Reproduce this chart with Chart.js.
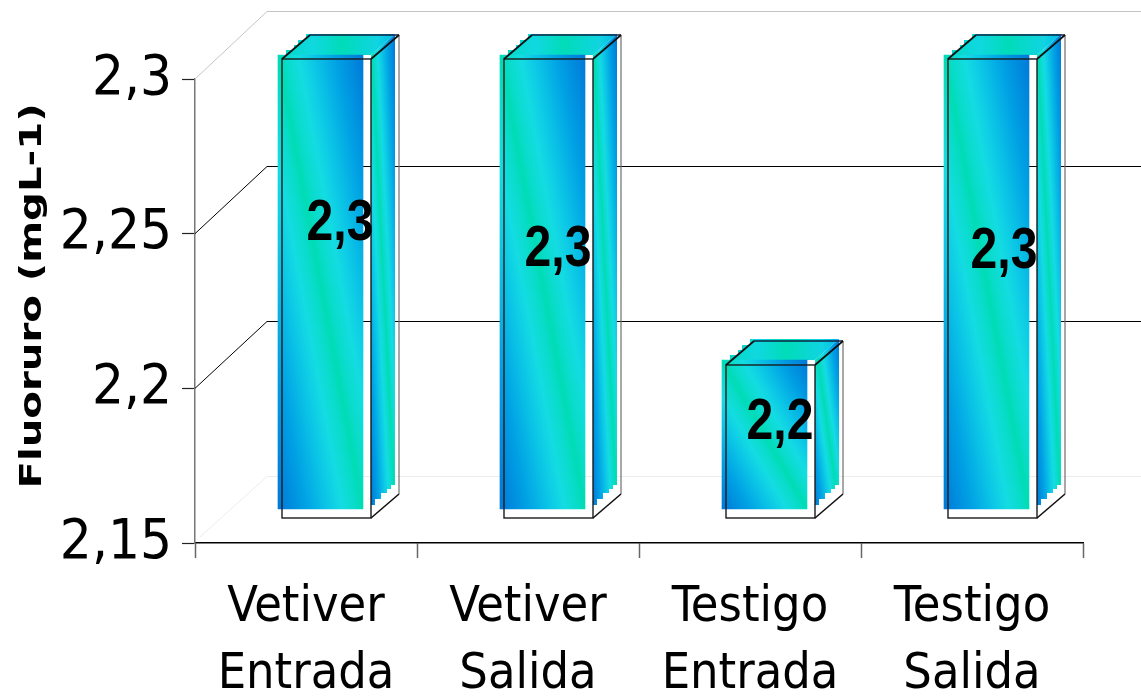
<!DOCTYPE html>
<html><head><meta charset="utf-8">
<style>html,body{margin:0;padding:0;background:#fff}canvas{display:block}</style>
<script src="https://cdn.jsdelivr.net/npm/chart.js@4"></script>
</head><body><canvas id="c" width="1141" height="697"></canvas>
<script>
const categories = [["Vetiver","Entrada"],["Vetiver","Salida"],["Testigo","Entrada"],["Testigo","Salida"]];
const fluoruro = [2.3, 2.3, 2.2, 2.3];
const valueLabels = ["2,3","2,3","2,2","2,3"];
const axisTitle = "Fluoruro (mgL-1)";
const yTicks = [2.15, 2.2, 2.25, 2.3];

const stops = [[0,'#0078d8'],[.16,'#00a0e4'],[.3,'#0cc8e6'],[.38,'#14dce2'],[.46,'#08dcc8'],[.5,'#00dcb4'],[.54,'#08dcc8'],[.62,'#14dce2'],[.7,'#0cc8e6'],[.84,'#00a0e4'],[1,'#0078d8']];
function diagGradient(ctx,x0,y0,x1,y1){
  const w=x1-x0,h=y1-y0,L=Math.hypot(w,h),d=w*h/L,nx=h/L,ny=-w/L,cx=(x0+x1)/2,cy=(y0+y1)/2;
  const g=ctx.createLinearGradient(cx+nx*d,cy+ny*d,cx-nx*d,cy-ny*d);
  stops.forEach(s=>g.addColorStop(s[0],s[1]));
  return g;
}
function topGradient(ctx,x0,x1){
  const g=ctx.createLinearGradient(x0,0,x1,0);
  [[0,'#00d8c0'],[.3,'#10d8e0'],[.55,'#00dcb8'],[.85,'#10d4e2'],[1,'#00b8e8']].forEach(s=>g.addColorStop(s[0],s[1]));
  return g;
}
const FILL_DX=14.5, FILL_W=85, DEPTH_X=28, DEPTH_Y=24;
function poly(ctx,pts){ctx.beginPath();pts.forEach((p,i)=>i?ctx.lineTo(p[0],p[1]):ctx.moveTo(p[0],p[1]));ctx.closePath();}
function line(ctx,a,b,c,d,color,w){ctx.strokeStyle=color;ctx.lineWidth=w;ctx.beginPath();ctx.moveTo(a,b);ctx.lineTo(c,d);ctx.stroke();}

const bars3d={
  id:'bars3d',
  beforeDatasetsDraw(chart){
    const ctx=chart.ctx,y=chart.scales.y,wall=chart.scales.yWall,r=chart.width;
    ctx.save();
    yTicks.forEach(v=>{
      const a=y.getPixelForValue(v),b=wall.getPixelForValue(v);
      const col=v===2.3?'#c4c4c4':(v===2.15?'#ececec':'#000');
      line(ctx,267,b,r,b,col,1);
      line(ctx,v===2.15?200:195,v===2.15?a-6:a,267,b,col,1);
    });
    const meta=chart.getDatasetMeta(0),bs=chart.scales.yBar,ds=chart.data.datasets[0];
    meta.data.forEach((el,i)=>{
      const lx=el.x+FILL_DX-FILL_W/2,top=bs.getPixelForValue(ds.data[i]),bot=bs.getPixelForValue(ds.base);
      const front=el.x+65, sx=front+24, ty=top-21;
      ctx.fillStyle=diagGradient(ctx,front,ty,sx,bot);
      poly(ctx,[[front,top],[sx,ty],[sx,bot-24],[sx-4,bot-24],[sx-4,bot-20],[sx-8,bot-20],[sx-8,bot-16],[sx-14,bot-16],[sx-14,bot-10],[sx-20,bot-10],[sx-20,bot-4],[front,bot-4]]);
      ctx.fill();
      ctx.fillStyle=topGradient(ctx,lx,sx);
      poly(ctx,[[lx,top],[lx+8,top],[lx+8,top-5],[lx+16,top-5],[lx+16,top-10],[lx+20,top-10],[lx+20,top-15],[lx+28,top-15],[lx+28,ty],[sx,ty],[front,top]]);
      ctx.fill();
    });
    ctx.restore();
  },
  beforeDatasetDraw(chart){chart.ctx.save();chart.ctx.translate(FILL_DX,0);},
  afterDatasetDraw(chart){chart.ctx.restore();},
  afterDatasetsDraw(chart){
    const ctx=chart.ctx,f=chart.scales.yFrame,meta=chart.getDatasetMeta(0),ds=chart.data.datasets[0];
    const shift=[[34,-64],[30,-38],[30,-18],[32,-36]];
    ctx.save();
    meta.data.forEach((el,i)=>{
      const l=el.x-24,rr=el.x+65,t=f.getPixelForValue(ds.data[i]),b=f.getPixelForValue(2.15);
      line(ctx,rr+DEPTH_X,t-DEPTH_Y,rr+DEPTH_X,b-DEPTH_Y,'#6e6e6e',1.2);
      ctx.strokeStyle='#1a1a1a';ctx.lineWidth=1.4;ctx.strokeRect(l,t,rr-l,b-t);
      line(ctx,l,t,l+DEPTH_X,t-DEPTH_Y,'#111',1.8);
      line(ctx,l+DEPTH_X,t-DEPTH_Y,rr+DEPTH_X,t-DEPTH_Y,'#124',1.4);
      line(ctx,rr,t,rr+DEPTH_X,t-DEPTH_Y,'#111',1.8);
      line(ctx,rr,b,rr+DEPTH_X,b-DEPTH_Y,'#111',1.6);
      ctx.save();
      ctx.translate(el.x+shift[i][0],(t+b)/2+shift[i][1]);
      ctx.scale(.83,1);
      ctx.fillStyle='#000';ctx.textAlign='center';ctx.textBaseline='middle';
      ctx.font='bold 58px "Liberation Sans"';
      ctx.fillText(valueLabels[i],0,0);
      ctx.restore();
    });
    ctx.translate(33,296);ctx.rotate(-Math.PI/2);ctx.scale(1.34,1);
    ctx.font='bold 30px "DejaVu Sans"';ctx.fillStyle='#000';ctx.textAlign='center';ctx.textBaseline='middle';
    ctx.fillText(axisTitle,0,0);
    ctx.restore();
  }
};

new Chart(document.getElementById('c'),{
  type:'bar',
  data:{labels:categories,datasets:[{
    label:'Fluoruro',data:fluoruro,yAxisID:'yBar',base:2.15115,barThickness:FILL_W,clip:false,borderWidth:0,
    backgroundColor(c){
      const ch=c.chart;
      if(!ch.chartArea||c.dataIndex===undefined)return '#00c0e0';
      const s=ch.scales.yBar,x=ch.scales.x.getPixelForValue(c.dataIndex);
      return diagGradient(ch.ctx,x-FILL_W/2,s.getPixelForValue(fluoruro[c.dataIndex]),x+FILL_W/2,s.getPixelForValue(2.15115));
    }
  }]},
  options:{
    responsive:false,animation:false,
    layout:{padding:{top:79,right:58,left:0,bottom:0}},
    plugins:{legend:{display:false},tooltip:{enabled:false}},
    scales:{
      x:{
        grid:{offset:true,drawOnChartArea:false,tickLength:15,tickColor:'#666',tickWidth:1.5},
        border:{color:'#000',width:1.5},
        ticks:{color:'#000',font:{family:'"DejaVu Sans Condensed"',size:50,lineHeight:1.34},padding:17,maxRotation:0,autoSkip:false},
        afterFit(s){s.height=154;}
      },
      y:{
        min:2.15,max:2.3,
        afterBuildTicks(s){s.ticks=yTicks.map(v=>({value:v}));},
        grid:{drawOnChartArea:false,tickLength:13,tickColor:'#222',tickWidth:1.2},
        border:{color:'#777',width:1.5},
        ticks:{color:'#000',font:{family:'"DejaVu Sans Condensed"',size:56},padding:10,
          callback(v){return String(+(+v).toFixed(2)).replace('.',',');}},
        afterFit(s){s.width=195;}
      },
      yBar:{axis:'y',display:false,min:2.14,max:2.29213},
      yFrame:{axis:'y',display:false,min:2.14183,max:2.29346},
      yWall:{axis:'y',display:false,min:2.12855,max:2.27823}
    }
  },
  plugins:[bars3d]
});
</script></body></html>
